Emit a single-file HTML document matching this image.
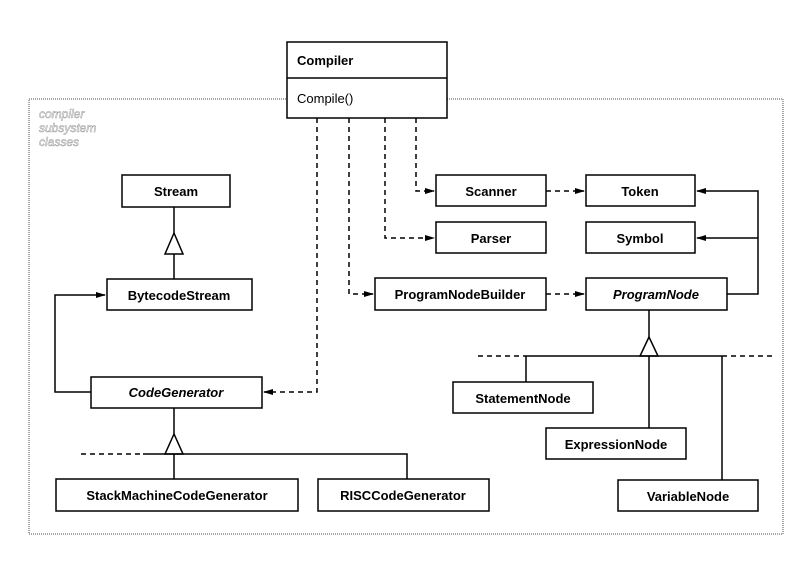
<!DOCTYPE html>
<html><head><meta charset="utf-8"><style>
html,body{margin:0;padding:0;background:#fff;}
svg{display:block}
text{font-family:"Liberation Sans",sans-serif;font-size:13px;font-weight:bold;fill:#000}
</style></head><body>
<svg width="811" height="561" viewBox="0 0 811 561" xmlns="http://www.w3.org/2000/svg">
<defs><marker id="a" markerWidth="10" markerHeight="8" refX="9" refY="4" orient="auto" markerUnits="userSpaceOnUse"><path d="M0,1 L10,4 L0,7 Z" fill="#000"/></marker></defs>
<rect x="29" y="99" width="754" height="435" fill="none" stroke="#888" stroke-width="1.5" stroke-dasharray="1,1"/>
<text x="39" y="118" style="font-weight:normal;font-style:italic;font-size:12px;fill:#fff;stroke:#999;stroke-width:0.5">compiler</text>
<text x="39" y="132" style="font-weight:normal;font-style:italic;font-size:12px;fill:#fff;stroke:#999;stroke-width:0.5">subsystem</text>
<text x="39" y="146" style="font-weight:normal;font-style:italic;font-size:12px;fill:#fff;stroke:#999;stroke-width:0.5">classes</text>
<g stroke="#000" stroke-width="1.5" fill="#fff">
<rect x="287" y="42" width="160" height="76"/><line x1="287" y1="78" x2="447" y2="78"/>
<rect x="122" y="175" width="108" height="32"/>
<rect x="107" y="279" width="145" height="31"/>
<rect x="91" y="377" width="171" height="31"/>
<rect x="56" y="479" width="242" height="32"/>
<rect x="318" y="479" width="171" height="32"/>
<rect x="436" y="175" width="110" height="31"/>
<rect x="586" y="175" width="109" height="31"/>
<rect x="436" y="222" width="110" height="31"/>
<rect x="586" y="222" width="109" height="31"/>
<rect x="375" y="278" width="171" height="32"/>
<rect x="586" y="278" width="141" height="32"/>
<rect x="453" y="382" width="140" height="31"/>
<rect x="546" y="428" width="140" height="31"/>
<rect x="618" y="480" width="140" height="31"/>
</g>
<g stroke="#000" stroke-width="1.5" fill="none">
<polyline points="174,207 174,233"/><polygon points="174,233 165,254 183,254" fill="#fff"/><line x1="174" y1="254" x2="174" y2="279"/>
<polyline points="91,392 55,392 55,295 105,295" marker-end="url(#a)"/>
<line x1="174" y1="408" x2="174" y2="434"/><polygon points="174,434 165,454 183,454" fill="#fff"/>
<line x1="174" y1="454" x2="174" y2="479"/>
<polyline points="143,454 407,454 407,479"/>
<line x1="81" y1="454" x2="143" y2="454" stroke-dasharray="5,4"/>
<polyline points="727,294 758,294 758,191 697,191" marker-end="url(#a)"/>
<line x1="758" y1="238" x2="697" y2="238" marker-end="url(#a)"/>
<line x1="649" y1="310" x2="649" y2="337"/><polygon points="649,337 640,356 658,356" fill="#fff"/>
<line x1="525" y1="356" x2="722" y2="356"/>
<line x1="478" y1="356" x2="525" y2="356" stroke-dasharray="5,4"/>
<line x1="722" y1="356" x2="772" y2="356" stroke-dasharray="5,4"/>
<line x1="526" y1="356" x2="526" y2="382"/>
<line x1="649" y1="356" x2="649" y2="428"/>
<line x1="722" y1="356" x2="722" y2="480"/>
</g>
<g stroke="#000" stroke-width="1.5" fill="none" stroke-dasharray="5,4">
<polyline points="416,118 416,191 434,191" marker-end="url(#a)"/>
<polyline points="385,118 385,238 434,238" marker-end="url(#a)"/>
<polyline points="349,118 349,294 373,294" marker-end="url(#a)"/>
<polyline points="317,118 317,392 264,392" marker-end="url(#a)"/>
<line x1="546" y1="191" x2="584" y2="191" marker-end="url(#a)"/>
<line x1="546" y1="294" x2="584" y2="294" marker-end="url(#a)"/>
</g>
<text x="297" y="65">Compiler</text>
<text x="297" y="103" style="font-weight:normal">Compile()</text>
<text x="176" y="196" text-anchor="middle">Stream</text>
<text x="179" y="300" text-anchor="middle">BytecodeStream</text>
<text x="176" y="397" text-anchor="middle" font-style="italic">CodeGenerator</text>
<text x="177" y="500" text-anchor="middle">StackMachineCodeGenerator</text>
<text x="403" y="500" text-anchor="middle">RISCCodeGenerator</text>
<text x="491" y="196" text-anchor="middle">Scanner</text>
<text x="640" y="196" text-anchor="middle">Token</text>
<text x="491" y="243" text-anchor="middle">Parser</text>
<text x="640" y="243" text-anchor="middle">Symbol</text>
<text x="460" y="299" text-anchor="middle">ProgramNodeBuilder</text>
<text x="656" y="299" text-anchor="middle" font-style="italic">ProgramNode</text>
<text x="523" y="403" text-anchor="middle">StatementNode</text>
<text x="616" y="449" text-anchor="middle">ExpressionNode</text>
<text x="688" y="501" text-anchor="middle">VariableNode</text>
</svg>
</body></html>
